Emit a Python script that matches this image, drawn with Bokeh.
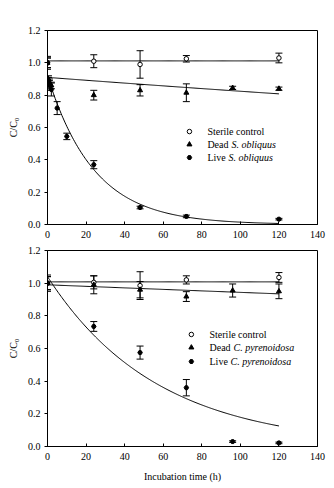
import numpy as np
from bokeh.plotting import figure
from bokeh.models import (ColumnDataSource, Whisker, TeeHead, Range1d, FixedTicker,
                          Label, PrintfTickFormatter, AllLabels)
from bokeh.layouts import column
from bokeh.embed import file_html
from bokeh.resources import INLINE

# ---------------- data: S. obliquus (top panel) ----------------
so_sterile_t = [0, 24, 48, 72, 120]
so_sterile_v = [1.00, 1.01, 0.99, 1.025, 1.03]
so_sterile_e = [0.04, 0.04, 0.085, 0.02, 0.03]

so_dead_t = [0, 0.5, 1, 2, 24, 48, 72, 96, 120]
so_dead_v = [1.00, 0.90, 0.88, 0.86, 0.80, 0.83, 0.815, 0.845, 0.84]
so_dead_e = [0.03, 0.02, 0.02, 0.02, 0.03, 0.035, 0.055, 0.01, 0.01]

so_live_t = [0, 0.5, 1, 2, 5, 10, 24, 48, 72, 120]
so_live_v = [1.00, 0.89, 0.86, 0.835, 0.72, 0.545, 0.37, 0.105, 0.05, 0.033]
so_live_e = [0.03, 0.02, 0.03, 0.04, 0.04, 0.02, 0.025, 0.008, 0.008, 0.005]

# fitted curves (C/C0 = A * exp(-k t))
so_fit = {"sterile": (1.012, 0.0), "dead": (0.91, 0.00099), "live": (0.92, 0.0415)}

# ---------------- data: C. pyrenoidosa (bottom panel) ----------------
cp_sterile_t = [0, 24, 48, 72, 120]
cp_sterile_v = [1.00, 1.005, 0.985, 1.02, 1.035]
cp_sterile_e = [0.05, 0.04, 0.085, 0.025, 0.03]

cp_dead_t = [0, 24, 48, 72, 96, 120]
cp_dead_v = [1.00, 0.99, 0.96, 0.918, 0.955, 0.95]
cp_dead_e = [0.04, 0.055, 0.05, 0.03, 0.04, 0.045]

cp_live_t = [0, 24, 48, 72, 96, 120]
cp_live_v = [1.00, 0.735, 0.575, 0.36, 0.03, 0.022]
cp_live_e = [0.04, 0.03, 0.04, 0.05, 0.005, 0.005]

cp_fit = {"sterile": (1.008, 0.0), "dead": (0.99, 0.00048), "live": (1.04, 0.0176)}

x_ticks = [0, 20, 40, 60, 80, 100, 120, 140]
y_ticks = [0.0, 0.2, 0.4, 0.6, 0.8, 1.0, 1.2]

FONT = "Liberation Serif"


def make_panel(height, top, bottom, xlabel, series, fits, species, legend_pos):
    p = figure(width=334, height=height, output_backend="svg", toolbar_location=None,
               x_range=Range1d(0, 140), y_range=Range1d(0, 1.2),
               min_border_left=47, min_border_right=17,
               min_border_top=top, min_border_bottom=bottom)
    p.background_fill_color = "white"
    p.border_fill_color = "white"
    p.outline_line_color = "black"
    p.outline_line_width = 1
    p.xgrid.visible = False
    p.ygrid.visible = False

    p.xaxis.ticker = FixedTicker(ticks=x_ticks)
    p.yaxis.ticker = FixedTicker(ticks=y_ticks)
    p.yaxis.formatter = PrintfTickFormatter(format="%.1f")
    for ax in (p.xaxis, p.yaxis):
        ax.major_label_policy = AllLabels()
        ax.axis_line_color = "black"
        ax.major_tick_line_color = "black"
        ax.minor_tick_line_color = None
        ax.major_label_text_font = FONT
        ax.major_label_text_font_size = "10px"
        ax.major_label_text_color = "black"
        ax.axis_label_text_font = FONT
        ax.axis_label_text_font_size = "10px"
        ax.axis_label_text_font_style = "normal"
        ax.axis_label_text_color = "black"
    p.xaxis.major_tick_in = 3
    p.xaxis.major_tick_out = 0
    p.xaxis.major_label_standoff = 6
    p.yaxis.major_tick_in = 0
    p.yaxis.major_tick_out = 3
    p.yaxis.major_label_standoff = 4
    p.yaxis.axis_label = "C/C\u2080"
    p.yaxis.axis_label_standoff = 6
    if xlabel:
        p.xaxis.axis_label = xlabel
        p.xaxis.axis_label_standoff = 8

    # fitted curves
    tt = np.linspace(0, 120, 241)
    for key in ("sterile", "dead", "live"):
        a, k = fits[key]
        p.line(tt, a * np.exp(-k * tt), line_color="black", line_width=1)

    styles = {
        "sterile": dict(marker="circle", fill_color="white", size=4.5),
        "dead": dict(marker="triangle", fill_color="black", size=5),
        "live": dict(marker="hex", fill_color="black", size=4.5),
    }
    for key in ("sterile", "dead", "live"):
        t, v, e = series[key]
        src = ColumnDataSource(dict(t=t, v=v,
                                    up=[a + b for a, b in zip(v, e)],
                                    lo=[a - b for a, b in zip(v, e)]))
        p.add_layout(Whisker(base="t", upper="up", lower="lo", source=src,
                             dimension="height", line_color="black", line_width=1,
                             upper_head=TeeHead(size=7, line_color="black", line_width=1),
                             lower_head=TeeHead(size=7, line_color="black", line_width=1)))
        p.scatter("t", "v", source=src, line_color="black", line_width=1, **styles[key])

    # legend (manual, for italic species names)
    mx, tx, rows = legend_pos
    labels = [("Sterile control", ""), ("Dead ", species), ("Live ", species)]
    offsets = [0, 24, 21]
    for (key, (txt, it), off, ry) in zip(("sterile", "dead", "live"), labels, offsets, rows):
        st = dict(styles[key])
        p.scatter([mx], [ry], line_color="black", line_width=1, **st)
        p.add_layout(Label(x=tx, y=ry, text=txt, text_font=FONT, text_font_size="10px",
                           text_baseline="middle", text_color="black"))
        if it:
            p.add_layout(Label(x=tx, y=ry, x_offset=off, text=it, text_font=FONT,
                               text_font_size="10px", text_font_style="italic",
                               text_baseline="middle", text_color="black"))
    return p


p1 = make_panel(244, 30, 20, None,
                {"sterile": (so_sterile_t, so_sterile_v, so_sterile_e),
                 "dead": (so_dead_t, so_dead_v, so_dead_e),
                 "live": (so_live_t, so_live_v, so_live_e)},
                so_fit, "S. obliquus", (73.6, 82.9, [0.575, 0.495, 0.414]))
p2 = make_panel(244, 6, 42, "Incubation time (h)",
                {"sterile": (cp_sterile_t, cp_sterile_v, cp_sterile_e),
                 "dead": (cp_dead_t, cp_dead_v, cp_dead_e),
                 "live": (cp_live_t, cp_live_v, cp_live_e)},
                cp_fit, "C. pyrenoidosa", (74.6, 84.0, [0.686, 0.606, 0.52]))

layout = column(p1, p2, spacing=0)
open("out.html", "w").write(file_html(layout, INLINE))
